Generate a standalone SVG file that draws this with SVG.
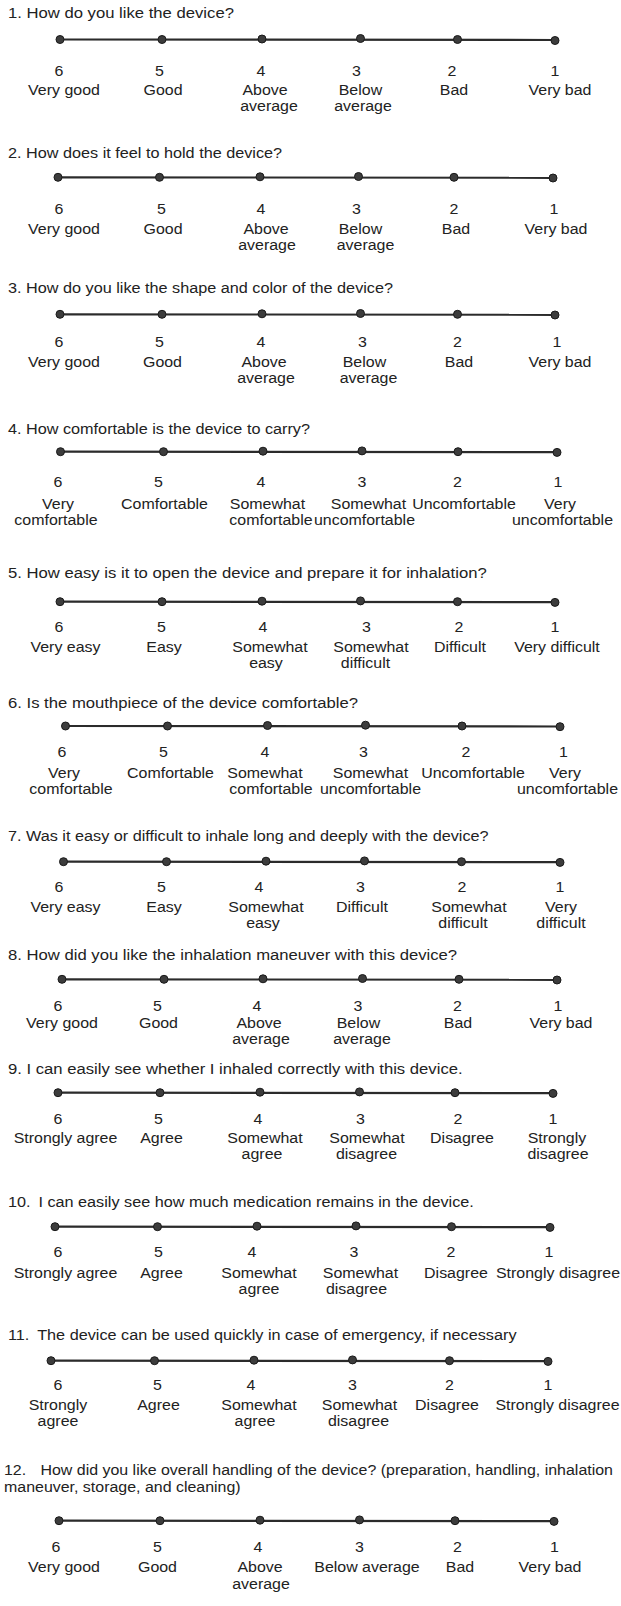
<svg xmlns="http://www.w3.org/2000/svg" width="621" height="1606" viewBox="0 0 621 1606">
<style>
text{font-family:"Liberation Sans",Arial,Helvetica,sans-serif;font-size:14.5px;fill:#222;}
.c{text-anchor:middle;transform-box:fill-box;transform-origin:center;transform:scaleX(1.1);}
.h{transform-box:fill-box;transform-origin:left center;transform:scaleX(1.12);}
.w{transform:scaleX(1.15);}
.n{transform:scaleX(1.1);}
.ax{stroke:#2b2b2b;stroke-width:2.2;fill:none;}
.d{fill:#3c3c3c;stroke:#1a1a1a;stroke-width:1;}
</style>
<rect width="621" height="1606" fill="#fff"/>
<g id="connectors">
<line class="ax" x1="60" y1="39.5" x2="555" y2="40"/>
<line class="ax" x1="58" y1="177.3" x2="553" y2="177.8"/>
<line class="ax" x1="60" y1="314.3" x2="555" y2="314.8"/>
<line class="ax" x1="60.5" y1="451.7" x2="557" y2="452.2"/>
<line class="ax" x1="60" y1="601.7" x2="555" y2="602.2"/>
<line class="ax" x1="65.5" y1="726" x2="560" y2="726.5"/>
<line class="ax" x1="63.5" y1="861.7" x2="560" y2="862.2"/>
<line class="ax" x1="62" y1="979.3" x2="557" y2="979.8"/>
<line class="ax" x1="58" y1="1092.7" x2="553" y2="1093.2"/>
<line class="ax" x1="55" y1="1226.7" x2="550" y2="1227.2"/>
<line class="ax" x1="51" y1="1360.7" x2="548" y2="1361.2"/>
<line class="ax" x1="59" y1="1520.7" x2="554" y2="1521.2"/>
</g>
<g id="q1">
<text class="h w" x="8" y="18">1. How do you like the device?</text>
<circle class="d" cx="60" cy="39.5" r="4"/><circle class="d" cx="162" cy="39.5" r="4"/><circle class="d" cx="262" cy="39" r="4"/><circle class="d" cx="360.5" cy="38.5" r="4"/><circle class="d" cx="457.5" cy="39.5" r="4"/><circle class="d" cx="555" cy="40.5" r="4"/>
<text class="c" x="59" y="76">6</text><text class="c" x="159.5" y="76">5</text><text class="c" x="261" y="76">4</text><text class="c" x="356.5" y="76">3</text><text class="c" x="452" y="76">2</text><text class="c" x="555" y="76">1</text>
<text class="c" x="64" y="95">Very good</text><text class="c" x="163" y="95">Good</text><text class="c" x="265" y="95">Above</text><text class="c" x="269" y="111">average</text><text class="c" x="360.5" y="95">Below</text><text class="c" x="363" y="111">average</text><text class="c" x="454" y="95">Bad</text><text class="c" x="560" y="95">Very bad</text>
</g>
<g id="q2">
<text class="h" x="8" y="158">2. How does it feel to hold the device?</text>
<circle class="d" cx="58" cy="177.3" r="4"/><circle class="d" cx="159.5" cy="177.3" r="4"/><circle class="d" cx="260" cy="176.8" r="4"/><circle class="d" cx="358.5" cy="176.5" r="4"/><circle class="d" cx="454" cy="177.3" r="4"/><circle class="d" cx="553" cy="178" r="4"/>
<text class="c" x="59" y="214.5">6</text><text class="c" x="161.5" y="214.5">5</text><text class="c" x="261" y="214.5">4</text><text class="c" x="356.5" y="214.5">3</text><text class="c" x="454" y="214.5">2</text><text class="c" x="554" y="214.5">1</text>
<text class="c" x="64" y="234.5">Very good</text><text class="c" x="163" y="234.5">Good</text><text class="c" x="266" y="234.5">Above</text><text class="c" x="267" y="250.5">average</text><text class="c" x="360.5" y="234.5">Below</text><text class="c" x="365.5" y="250.5">average</text><text class="c" x="456" y="234.5">Bad</text><text class="c" x="556" y="234.5">Very bad</text>
</g>
<g id="q3">
<text class="h" x="8" y="293">3. How do you like the shape and color of the device?</text>
<circle class="d" cx="60" cy="314.3" r="4"/><circle class="d" cx="162" cy="314.3" r="4"/><circle class="d" cx="262" cy="313.8" r="4"/><circle class="d" cx="360.5" cy="313.5" r="4"/><circle class="d" cx="457.5" cy="314.3" r="4"/><circle class="d" cx="555" cy="315" r="4"/>
<text class="c" x="59" y="347.5">6</text><text class="c" x="159.5" y="347.5">5</text><text class="c" x="261" y="347.5">4</text><text class="c" x="362.5" y="347.5">3</text><text class="c" x="457.5" y="347.5">2</text><text class="c" x="557" y="347.5">1</text>
<text class="c" x="64" y="367.5">Very good</text><text class="c" x="162.5" y="367.5">Good</text><text class="c" x="264" y="367.5">Above</text><text class="c" x="266" y="383.5">average</text><text class="c" x="364.5" y="367.5">Below</text><text class="c" x="368.5" y="383.5">average</text><text class="c" x="459" y="367.5">Bad</text><text class="c" x="560" y="367.5">Very bad</text>
</g>
<g id="q4">
<text class="h" x="8" y="434">4. How comfortable is the device to carry?</text>
<circle class="d" cx="60.5" cy="451.7" r="4"/><circle class="d" cx="163.5" cy="451.7" r="4"/><circle class="d" cx="263" cy="451.2" r="4"/><circle class="d" cx="362" cy="450.9" r="4"/><circle class="d" cx="458" cy="451.7" r="4"/><circle class="d" cx="557" cy="452.4" r="4"/>
<text class="c" x="58" y="487">6</text><text class="c" x="158.5" y="487">5</text><text class="c" x="261" y="487">4</text><text class="c" x="362" y="487">3</text><text class="c" x="457.5" y="487">2</text><text class="c" x="558" y="487">1</text>
<text class="c" x="58" y="509.5">Very</text><text class="c" x="56" y="525.5">comfortable</text><text class="c" x="164.5" y="509.5">Comfortable</text><text class="c" x="267.5" y="509.5">Somewhat</text><text class="c" x="271" y="525.5">comfortable</text><text class="c" x="368.5" y="509.5">Somewhat</text><text class="c" x="364.5" y="525.5">uncomfortable</text><text class="c" x="464" y="509.5">Uncomfortable</text><text class="c" x="560" y="509.5">Very</text><text class="c" x="562.5" y="525.5">uncomfortable</text>
</g>
<g id="q5">
<text class="h w" x="8" y="578">5. How easy is it to open the device and prepare it for inhalation?</text>
<circle class="d" cx="60" cy="601.7" r="4"/><circle class="d" cx="162" cy="601.7" r="4"/><circle class="d" cx="262" cy="601.2" r="4"/><circle class="d" cx="360.5" cy="600.9" r="4"/><circle class="d" cx="457.5" cy="601.7" r="4"/><circle class="d" cx="555" cy="602.4" r="4"/>
<text class="c" x="59" y="632.5">6</text><text class="c" x="161.5" y="632.5">5</text><text class="c" x="263" y="632.5">4</text><text class="c" x="366.5" y="632.5">3</text><text class="c" x="459" y="632.5">2</text><text class="c" x="555" y="632.5">1</text>
<text class="c" x="65.5" y="652">Very easy</text><text class="c" x="164" y="652">Easy</text><text class="c" x="270" y="652">Somewhat</text><text class="c" x="266" y="668">easy</text><text class="c" x="371" y="652">Somewhat</text><text class="c" x="365.5" y="668">difficult</text><text class="c" x="460" y="652">Difficult</text><text class="c" x="557" y="652">Very difficult</text>
</g>
<g id="q6">
<text class="h w" x="8" y="708.5">6. Is the mouthpiece of the device comfortable?</text>
<circle class="d" cx="65.5" cy="726" r="4"/><circle class="d" cx="167.5" cy="726" r="4"/><circle class="d" cx="267.5" cy="725.5" r="4"/><circle class="d" cx="365.5" cy="725.2" r="4"/><circle class="d" cx="462" cy="726" r="4"/><circle class="d" cx="560" cy="726.7" r="4"/>
<text class="c" x="62" y="757">6</text><text class="c" x="163.5" y="757">5</text><text class="c" x="265" y="757">4</text><text class="c" x="363.5" y="757">3</text><text class="c" x="466" y="757">2</text><text class="c" x="563.5" y="757">1</text>
<text class="c" x="64" y="778.5">Very</text><text class="c" x="71" y="794.5">comfortable</text><text class="c" x="170.5" y="778.5">Comfortable</text><text class="c" x="265" y="778.5">Somewhat</text><text class="c" x="271" y="794.5">comfortable</text><text class="c" x="370.5" y="778.5">Somewhat</text><text class="c" x="370.5" y="794.5">uncomfortable</text><text class="c" x="473" y="778.5">Uncomfortable</text><text class="c" x="565" y="778.5">Very</text><text class="c" x="567.5" y="794.5">uncomfortable</text>
</g>
<g id="q7">
<text class="h" x="8" y="841">7. Was it easy or difficult to inhale long and deeply with the device?</text>
<circle class="d" cx="63.5" cy="861.7" r="4"/><circle class="d" cx="166.5" cy="861.7" r="4"/><circle class="d" cx="266" cy="861.2" r="4"/><circle class="d" cx="364.5" cy="860.9" r="4"/><circle class="d" cx="461.5" cy="861.7" r="4"/><circle class="d" cx="560" cy="862.4" r="4"/>
<text class="c" x="59" y="892.5">6</text><text class="c" x="161.5" y="892.5">5</text><text class="c" x="259" y="892.5">4</text><text class="c" x="360.5" y="892.5">3</text><text class="c" x="462" y="892.5">2</text><text class="c" x="560" y="892.5">1</text>
<text class="c" x="65.5" y="912">Very easy</text><text class="c" x="164" y="912">Easy</text><text class="c" x="266" y="912">Somewhat</text><text class="c" x="263" y="928">easy</text><text class="c" x="362" y="912">Difficult</text><text class="c" x="469" y="912">Somewhat</text><text class="c" x="463" y="928">difficult</text><text class="c" x="561" y="912">Very</text><text class="c" x="561" y="928">difficult</text>
</g>
<g id="q8">
<text class="h w" x="8" y="960.5">8. How did you like the inhalation maneuver with this device?</text>
<circle class="d" cx="62" cy="979.3" r="4"/><circle class="d" cx="164" cy="979.3" r="4"/><circle class="d" cx="263" cy="978.8" r="4"/><circle class="d" cx="362.5" cy="978.5" r="4"/><circle class="d" cx="459" cy="979.3" r="4"/><circle class="d" cx="557" cy="980" r="4"/>
<text class="c" x="58" y="1011">6</text><text class="c" x="157.5" y="1011">5</text><text class="c" x="257" y="1011">4</text><text class="c" x="358" y="1011">3</text><text class="c" x="457.5" y="1011">2</text><text class="c" x="558" y="1011">1</text>
<text class="c" x="62" y="1028.5">Very good</text><text class="c" x="158.5" y="1028.5">Good</text><text class="c" x="259" y="1028.5">Above</text><text class="c" x="261" y="1044.5">average</text><text class="c" x="358.5" y="1028.5">Below</text><text class="c" x="362" y="1044.5">average</text><text class="c" x="458" y="1028.5">Bad</text><text class="c" x="561" y="1028.5">Very bad</text>
</g>
<g id="q9">
<text class="h w" x="8" y="1074">9. I can easily see whether I inhaled correctly with this device.</text>
<circle class="d" cx="58" cy="1092.7" r="4"/><circle class="d" cx="160" cy="1092.7" r="4"/><circle class="d" cx="260" cy="1092.2" r="4"/><circle class="d" cx="359.5" cy="1091.9" r="4"/><circle class="d" cx="455" cy="1092.7" r="4"/><circle class="d" cx="553" cy="1093.4" r="4"/>
<text class="c" x="58" y="1124.5">6</text><text class="c" x="158.5" y="1124.5">5</text><text class="c" x="258" y="1124.5">4</text><text class="c" x="360.5" y="1124.5">3</text><text class="c" x="458" y="1124.5">2</text><text class="c" x="553" y="1124.5">1</text>
<text class="c" x="65.5" y="1143.5">Strongly agree</text><text class="c" x="161.5" y="1143.5">Agree</text><text class="c" x="265" y="1143.5">Somewhat</text><text class="c" x="262" y="1159.5">agree</text><text class="c" x="367" y="1143.5">Somewhat</text><text class="c" x="366.5" y="1159.5">disagree</text><text class="c" x="462" y="1143.5">Disagree</text><text class="c" x="557" y="1143.5">Strongly</text><text class="c" x="558" y="1159.5">disagree</text>
</g>
<g id="q10">
<text class="h" x="8" y="1207">10.<tspan dx="7">I can easily see how much medication remains in the device.</tspan></text>
<circle class="d" cx="55" cy="1226.7" r="4"/><circle class="d" cx="157.5" cy="1226.7" r="4"/><circle class="d" cx="257" cy="1226.2" r="4"/><circle class="d" cx="356" cy="1225.9" r="4"/><circle class="d" cx="451.5" cy="1226.7" r="4"/><circle class="d" cx="550" cy="1227.4" r="4"/>
<text class="c" x="58" y="1257.5">6</text><text class="c" x="158.5" y="1257.5">5</text><text class="c" x="252" y="1257.5">4</text><text class="c" x="354" y="1257.5">3</text><text class="c" x="451" y="1257.5">2</text><text class="c" x="549" y="1257.5">1</text>
<text class="c" x="65.5" y="1278.5">Strongly agree</text><text class="c" x="161.5" y="1278.5">Agree</text><text class="c" x="259" y="1278.5">Somewhat</text><text class="c" x="259" y="1294.5">agree</text><text class="c" x="360.5" y="1278.5">Somewhat</text><text class="c" x="356.5" y="1294.5">disagree</text><text class="c" x="456" y="1278.5">Disagree</text><text class="c" x="558" y="1278.5">Strongly disagree</text>
</g>
<g id="q11">
<text class="h" x="8" y="1340.5">11.<tspan dx="7">The device can be used quickly in case of emergency, if necessary</tspan></text>
<circle class="d" cx="51" cy="1360.7" r="4"/><circle class="d" cx="154.5" cy="1360.7" r="4"/><circle class="d" cx="254" cy="1360.2" r="4"/><circle class="d" cx="352.5" cy="1359.9" r="4"/><circle class="d" cx="449.5" cy="1360.7" r="4"/><circle class="d" cx="548" cy="1361.4" r="4"/>
<text class="c" x="58" y="1390">6</text><text class="c" x="157.5" y="1390">5</text><text class="c" x="251" y="1390">4</text><text class="c" x="352.5" y="1390">3</text><text class="c" x="449.5" y="1390">2</text><text class="c" x="548" y="1390">1</text>
<text class="c" x="58" y="1410">Strongly</text><text class="c" x="58" y="1426">agree</text><text class="c" x="158.5" y="1410">Agree</text><text class="c" x="259" y="1410">Somewhat</text><text class="c" x="255" y="1426">agree</text><text class="c" x="359.5" y="1410">Somewhat</text><text class="c" x="358.5" y="1426">disagree</text><text class="c" x="447" y="1410">Disagree</text><text class="c" x="557.5" y="1410">Strongly disagree</text>
</g>
<g id="q12">
<text class="h n" x="4" y="1475">12.<tspan dx="13">How did you like overall handling of the device? (preparation, handling, inhalation</tspan></text>
<text class="h n" x="4" y="1492">maneuver, storage, and cleaning)</text>
<circle class="d" cx="59" cy="1520.7" r="4"/><circle class="d" cx="160" cy="1520.7" r="4"/><circle class="d" cx="260" cy="1520.2" r="4"/><circle class="d" cx="359.5" cy="1519.9" r="4"/><circle class="d" cx="455" cy="1520.7" r="4"/><circle class="d" cx="554" cy="1521.4" r="4"/>
<text class="c" x="56" y="1552.5">6</text><text class="c" x="157.5" y="1552.5">5</text><text class="c" x="258" y="1552.5">4</text><text class="c" x="359.5" y="1552.5">3</text><text class="c" x="457.5" y="1552.5">2</text><text class="c" x="554.5" y="1552.5">1</text>
<text class="c" x="64" y="1572.5">Very good</text><text class="c" x="157.5" y="1572.5">Good</text><text class="c" x="260" y="1572.5">Above</text><text class="c" x="261" y="1589.5">average</text><text class="c" x="367" y="1572.5">Below average</text><text class="c" x="460" y="1572.5">Bad</text><text class="c" x="550" y="1572.5">Very bad</text>
</g>
</svg>
